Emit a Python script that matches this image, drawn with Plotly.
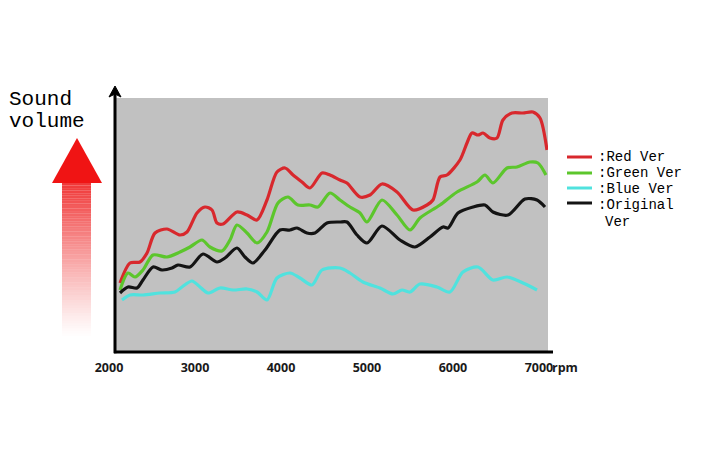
import plotly.graph_objects as go

# ---------------- data (rpm vs. relative sound volume) ----------------
red_rpm = [2128, 2244, 2360, 2442, 2535, 2674, 2826, 2907, 3023, 3116, 3198, 3256, 3326, 3488, 3605, 3721,
           3837, 3953, 4047, 4140, 4244, 4337, 4477, 4570, 4686, 4767, 4919, 5035, 5174, 5349, 5535, 5698,
           5767, 5849, 5930, 6081, 6163, 6221, 6291, 6349, 6430, 6512, 6581, 6686, 6814, 6930, 7012, 7093]
red_vol = [69, 89, 90, 99, 119, 123, 117, 120, 139, 145, 142, 129, 128, 140, 137, 132,
           152, 180, 184, 177, 170, 164, 179, 177, 172, 169, 155, 157, 168, 160, 142, 147,
           152, 175, 177, 192, 209, 219, 217, 219, 214, 214, 232, 239, 239, 240, 234, 202]

green_rpm = [2128, 2221, 2302, 2395, 2512, 2674, 2826, 2942, 3081, 3174, 3314, 3407, 3488, 3605, 3721, 3837,
             3965, 4081, 4198, 4337, 4430, 4570, 4686, 4802, 4919, 5000, 5174, 5349, 5500, 5616, 5849, 6047,
             6279, 6372, 6465, 6628, 6744, 6895, 6988, 7081]
green_vol = [62, 79, 75, 82, 97, 95, 100, 105, 112, 105, 101, 112, 127, 119, 109, 120,
             149, 155, 147, 147, 145, 159, 152, 145, 139, 130, 152, 137, 122, 134, 147, 160,
             170, 177, 169, 184, 185, 190, 189, 177]

blue_rpm = [2151, 2244, 2395, 2593, 2767, 2849, 2965, 3058, 3151, 3291, 3442, 3605, 3721, 3837, 3953, 4105,
            4221, 4360, 4477, 4686, 4802, 4953, 5151, 5302, 5407, 5500, 5616, 5814, 5965, 6116, 6291, 6465,
            6628, 6814, 6977]
blue_vol = [52, 57, 57, 59, 60, 65, 71, 65, 59, 64, 62, 63, 60, 52, 74, 79,
            74, 67, 82, 84, 79, 70, 64, 58, 62, 60, 68, 65, 60, 80, 85, 72,
            75, 69, 62]

orig_rpm = [2128, 2221, 2326, 2395, 2512, 2616, 2733, 2802, 2942, 3093, 3256, 3349, 3488, 3581, 3674, 3814,
            3988, 4105, 4186, 4302, 4395, 4535, 4686, 4767, 4884, 5000, 5174, 5384, 5558, 5733, 5884, 5942,
            6058, 6233, 6372, 6465, 6640, 6837, 6977, 7070]
orig_vol = [59, 65, 64, 72, 85, 82, 84, 87, 85, 98, 90, 94, 104, 95, 89, 102,
            122, 122, 124, 119, 119, 129, 130, 130, 117, 109, 126, 112, 105, 115, 125, 124,
            139, 145, 147, 140, 137, 153, 152, 145]

series_names = [":Red Ver", ":Green Ver", ":Blue Ver", ":Original"]
name_cont = "Ver"
tick_vals = [2000, 3000, 4000, 5000, 6000, 7000]
tick_text = ["2000", "3000", "4000", "5000", "6000", "7000"]
y_label = ["Sound", "volume"]
x_unit = "rpm"

# ---------------- layout geometry (pixels of the page) ----------------
W, H = 702, 468
OFF = 8  # page body margin
L, R, T, B = 109, 548, 98, 352


def fx(p):
    return (p - L) / (R - L)


def fy(p):
    return (B - p) / (B - T)


colors = ["#d8282d", "#5cc62c", "#50e2de", "#141414"]
series = [(red_rpm, red_vol), (green_rpm, green_vol), (blue_rpm, blue_vol), (orig_rpm, orig_vol)]

fig = go.Figure()
for (xs, ys), c, n in zip(series, colors, series_names):
    fig.add_trace(go.Scatter(x=xs, y=ys, mode="lines", name=n,
                             line=dict(color=c, width=3.2, shape="spline", smoothing=0.8),
                             showlegend=False))

shapes = []
# gray plotting panel
shapes.append(dict(type="rect", xref="paper", yref="paper", x0=fx(116), x1=1, y0=0, y1=1,
                   fillcolor="#c1c1c1", line=dict(width=0), layer="below"))
# axes
shapes.append(dict(type="line", xref="paper", yref="paper", x0=fx(114), x1=fx(553), y0=0, y1=0,
                   line=dict(color="#000", width=3)))
shapes.append(dict(type="line", xref="paper", yref="paper", x0=fx(115), x1=fx(115), y0=-0.005, y1=fy(93),
                   line=dict(color="#000", width=3)))
# arrow head on y axis
shapes.append(dict(type="path", xref="paper", yref="paper",
                   path=f"M {fx(109)},{fy(97)} L {fx(115)},{fy(86)} L {fx(121)},{fy(97)} L {fx(115)},{fy(94)} Z",
                   fillcolor="#000", line=dict(color="#000", width=1)))

# big red arrow with gradient shaft
shapes.append(dict(type="path", xref="paper", yref="paper",
                   path=f"M {fx(52)},{fy(183)} L {fx(77)},{fy(138)} L {fx(102)},{fy(183)} Z",
                   fillcolor="#f01414", line=dict(width=0)))
N = 60
top, bot = 183, 336
for i in range(N):
    y0 = top + (bot - top) * i / N
    y1 = top + (bot - top) * (i + 1) / N
    a = 0.88 * (1 - i / N) ** 1.15
    shapes.append(dict(type="rect", xref="paper", yref="paper", x0=fx(62), x1=fx(91),
                       y0=fy(y1), y1=fy(y0), fillcolor=f"rgba(238,30,30,{a:.3f})", line=dict(width=0)))

# legend samples
leg_y = [157, 173, 188, 203]
for yy, c in zip(leg_y, colors):
    shapes.append(dict(type="line", xref="paper", yref="paper", x0=fx(567), x1=fx(592), y0=fy(yy), y1=fy(yy),
                       line=dict(color=c, width=3)))

annotations = []
mono = "Liberation Mono"
annotations.append(dict(xref="paper", yref="paper", x=fx(7), y=fy(86), xanchor="left", yanchor="top",
                        text=y_label[0], showarrow=False, font=dict(family=mono, size=21, color="#000")))
annotations.append(dict(xref="paper", yref="paper", x=fx(7), y=fy(108), xanchor="left", yanchor="top",
                        text=y_label[1], showarrow=False, font=dict(family=mono, size=21, color="#000")))
text_y = [157, 173, 189, 205]
for yy, n in zip(text_y, series_names):
    annotations.append(dict(xref="paper", yref="paper", x=fx(596), y=fy(yy), xanchor="left", yanchor="middle",
                            text=n, showarrow=False, align="left",
                            font=dict(family=mono, size=14, color="#000")))
annotations.append(dict(xref="paper", yref="paper", x=fx(603), y=fy(222), xanchor="left", yanchor="middle",
                        text=name_cont, showarrow=False, align="left",
                        font=dict(family=mono, size=14, color="#000")))
annotations.append(dict(xref="x", yref="paper", x=7000, xshift=11, y=fy(367), xanchor="left", yanchor="middle",
                        text=x_unit, showarrow=False,
                        font=dict(family="Open Sans", size=12.5, color="#1a1a1a", weight="bold")))

fig.update_layout(
    width=W - OFF, height=H - OFF,
    margin=dict(l=L - OFF, r=W - R, t=T - OFF, b=H - B, pad=0),
    paper_bgcolor="white", plot_bgcolor="white",
    shapes=shapes, annotations=annotations,
    xaxis=dict(range=[2000, 7105], tickvals=tick_vals, ticktext=tick_text, showgrid=False, zeroline=False,
               showline=False, ticks="", ticklabelstandoff=6,
               tickfont=dict(family="Open Sans", size=12.5, color="#1a1a1a", weight="bold")),
    yaxis=dict(range=[0, 254], showgrid=False, zeroline=False, showline=False, showticklabels=False, ticks=""),
)

fig.write_html("out.html")
